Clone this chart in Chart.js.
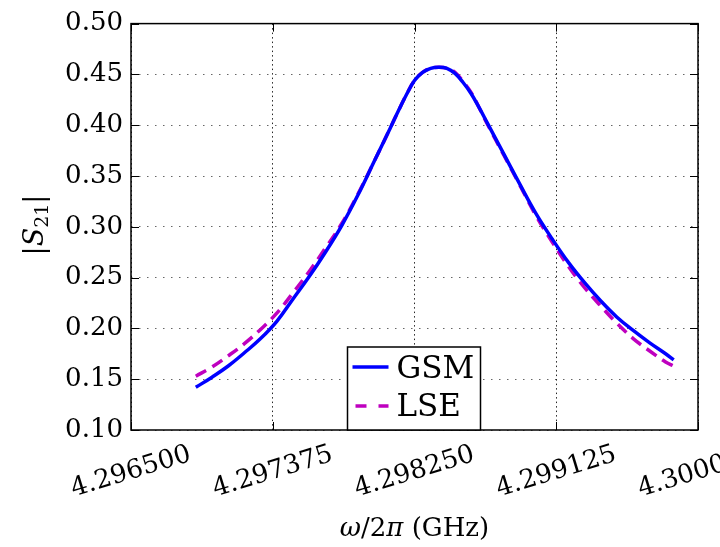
<!DOCTYPE html>
<html>
<head>
<meta charset="utf-8">
<script src="https://cdn.jsdelivr.net/npm/chart.js@4.4.0/dist/chart.umd.min.js"></script>
<style>
  body { margin: 0; background: #fff; }
</style>
</head>
<body>
<canvas id="myChart" width="720" height="547"></canvas>
<script>
// frequency (GHz)
const freq = [4.2969, 4.2970, 4.2971, 4.2972, 4.2973, 4.2974, 4.2975, 4.2976, 4.2977, 4.2978,
  4.2979, 4.2980, 4.2981, 4.29815, 4.2982, 4.29825, 4.2983, 4.29835, 4.2984, 4.29845,
  4.2985, 4.29855, 4.2986, 4.29865, 4.2987, 4.2988, 4.2989, 4.2990, 4.2991, 4.2992,
  4.2993, 4.2994, 4.2995, 4.2996, 4.2997, 4.2998, 4.29985];
// |S21| from GSM
const gsm = [0.142, 0.152, 0.163, 0.176, 0.190, 0.207, 0.229, 0.251, 0.275, 0.301,
  0.331, 0.364, 0.397, 0.414, 0.430, 0.444, 0.452, 0.456, 0.457, 0.456,
  0.451, 0.442, 0.431, 0.417, 0.402, 0.372, 0.342, 0.313, 0.288, 0.265,
  0.245, 0.227, 0.211, 0.198, 0.186, 0.175, 0.169];
// |S21| from LSE fit
const lse = [0.153, 0.162, 0.173, 0.185, 0.199, 0.215, 0.235, 0.256, 0.279, 0.303,
  0.332, 0.364, 0.397, 0.414, 0.430, 0.444, 0.452, 0.456, 0.457, 0.456,
  0.452, 0.443, 0.432, 0.417, 0.401, 0.371, 0.341, 0.311, 0.285, 0.261,
  0.240, 0.222, 0.205, 0.190, 0.178, 0.167, 0.163];
const xTicks = [4.2965, 4.297375, 4.29825, 4.299125, 4.3];
const yTicks = [0.10, 0.15, 0.20, 0.25, 0.30, 0.35, 0.40, 0.45, 0.50];

const serif = '"DejaVu Serif", serif';

function line(ctx, x1, y1, x2, y2) {
  ctx.beginPath();
  ctx.moveTo(x1, y1);
  ctx.lineTo(x2, y2);
  ctx.stroke();
}

// frame, inward ticks, rotated x labels, axis titles, legend
const decor = {
  id: "decor",
  afterDraw(chart) {
    const { ctx, chartArea: a, scales: { x, y } } = chart;
    ctx.save();
    ctx.strokeStyle = "#000";
    ctx.lineWidth = 1;
    xTicks.forEach((v) => {
      const px = Math.round(x.getPixelForValue(v)) + 0.5;
      line(ctx, px, a.bottom, px, a.bottom - 8);
      line(ctx, px, a.top, px, a.top + 8);
    });
    yTicks.forEach((v) => {
      const py = Math.round(y.getPixelForValue(v)) + 0.5;
      line(ctx, a.left, py, a.left + 8, py);
      line(ctx, a.right, py, a.right - 8, py);
    });
    ctx.lineWidth = 1.5;
    ctx.strokeRect(a.left, a.top, a.right - a.left, a.bottom - a.top);

    // x tick labels, rotated and centred on the tick
    ctx.fillStyle = "#000";
    ctx.font = "26px " + serif;
    ctx.textAlign = "center";
    ctx.textBaseline = "middle";
    xTicks.forEach((v) => {
      ctx.save();
      ctx.translate(x.getPixelForValue(v), a.bottom + 42);
      ctx.rotate(-17 * Math.PI / 180);
      ctx.fillText(v.toFixed(6), 0, 0);
      ctx.restore();
    });

    // x title: ω/2π (GHz)
    ctx.textAlign = "left";
    ctx.textBaseline = "alphabetic";
    const parts = [["ω", "italic 26px "], ["/2", "26px "], ["π", "italic 26px "], [" (GHz)", "26px "]];
    let w = 0;
    parts.forEach((p) => { ctx.font = p[1] + serif; w += ctx.measureText(p[0]).width; });
    let cx = (a.left + a.right) / 2 - w / 2;
    parts.forEach((p) => {
      ctx.font = p[1] + serif;
      ctx.fillText(p[0], cx, 536);
      cx += ctx.measureText(p[0]).width;
    });

    // y title: |S21|
    ctx.save();
    ctx.translate(43, 225);
    ctx.rotate(-Math.PI / 2);
    const yparts = [["|", "27px ", 0], ["S", "italic 27px ", 0], ["21", "19px ", 5], ["|", "27px ", 0]];
    w = 0;
    yparts.forEach((p) => { ctx.font = p[1] + serif; w += ctx.measureText(p[0]).width; });
    cx = -w / 2;
    yparts.forEach((p) => {
      ctx.font = p[1] + serif;
      ctx.fillText(p[0], cx, p[2]);
      cx += ctx.measureText(p[0]).width;
    });
    ctx.restore();

    // legend, lower centre
    const lx = (a.left + a.right) / 2 - 67;
    const ly = a.bottom - 83;
    ctx.fillStyle = "#fff";
    ctx.fillRect(lx, ly, 133, 83);
    ctx.lineWidth = 1.5;
    ctx.strokeStyle = "#000";
    ctx.strokeRect(lx, ly, 133, 83);
    ctx.lineWidth = 3.5;
    ctx.strokeStyle = "#0000ff";
    line(ctx, lx + 5, ly + 20, lx + 41, ly + 20);
    ctx.strokeStyle = "#bf00bf";
    ctx.setLineDash([11, 12]);
    ctx.lineDashOffset = -3;
    line(ctx, lx + 5, ly + 59, lx + 41, ly + 59);
    ctx.setLineDash([]);
    ctx.fillStyle = "#000";
    ctx.font = "31px " + serif;
    ctx.fillText("GSM", lx + 49, ly + 31);
    ctx.fillText("LSE", lx + 49, ly + 69);
    ctx.restore();
  },
};

const ctx = document.getElementById("myChart");
const myChart = new Chart(ctx, {
  type: "line",
  data: {
    datasets: [
      {
        label: "GSM",
        data: freq.map((f, i) => ({ x: f, y: gsm[i] })),
        borderColor: "#0000ff",
        borderWidth: 3.5,
        pointRadius: 0,
        tension: 0.4,
        fill: false,
      },
      {
        label: "LSE",
        data: freq.map((f, i) => ({ x: f, y: lse[i] })),
        borderColor: "#bf00bf",
        borderWidth: 3.5,
        borderDash: [12, 7],
        pointRadius: 0,
        tension: 0.4,
        fill: false,
      },
    ],
  },
  options: {
    responsive: false,
    animation: false,
    layout: { padding: { left: 0, right: 22, top: 23, bottom: 117 } },
    plugins: { legend: { display: false }, tooltip: { enabled: false } },
    scales: {
      x: {
        type: "linear",
        min: 4.2965,
        max: 4.3,
        afterBuildTicks: (s) => { s.ticks = xTicks.map((v) => ({ value: v })); },
        afterFit: (s) => { s.height = 0; },
        ticks: { display: false },
        grid: { color: "rgba(0,0,0,0.85)", lineWidth: 1, drawTicks: false },
        border: { display: false, dash: [1.5, 3] },
      },
      y: {
        min: 0.1,
        max: 0.5,
        afterBuildTicks: (s) => { s.ticks = yTicks.map((v) => ({ value: v })); },
        afterFit: (s) => { s.width = 131; },
        ticks: {
          color: "#000",
          padding: 8,
          font: { family: "DejaVu Serif", size: 26 },
          callback: (v) => v.toFixed(2),
        },
        grid: { color: "rgba(0,0,0,0.6)", lineWidth: 1, drawTicks: false },
        border: { display: false, dash: [1.5, 6.5] },
      },
    },
  },
  plugins: [decor],
});
</script>
</body>
</html>
